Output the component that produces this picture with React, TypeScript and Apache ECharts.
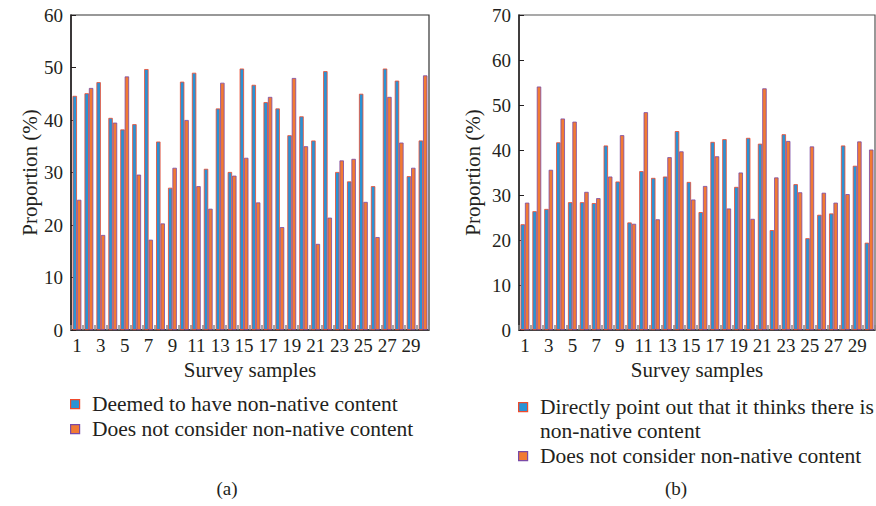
import React, { useEffect, useRef } from "react";
import * as echarts from "echarts";

const categories = ["1","2","3","4","5","6","7","8","9","10","11","12","13","14","15","16","17","18","19","20","21","22","23","24","25","26","27","28","29","30"];

const deemedA = [44.6,45.1,47.2,40.4,38.2,39.2,49.7,35.9,27.1,47.3,49.0,30.7,42.2,30.1,49.8,46.7,43.4,42.2,37.1,40.7,36.1,49.3,30.1,28.3,45.0,27.4,49.8,47.5,29.3,36.1];
const notConsiderA = [24.8,46.1,18.1,39.5,48.3,29.6,17.2,20.3,30.9,40.0,27.4,23.1,47.1,29.4,32.8,24.3,44.4,19.6,48.0,35.0,16.4,21.4,32.3,32.6,24.4,17.7,44.4,35.7,30.9,48.5];

const directB = [23.5,26.4,26.9,41.7,28.4,28.4,28.2,41.0,33.0,23.9,35.3,33.8,34.1,44.2,32.9,26.2,41.8,42.4,31.8,42.7,41.4,22.2,43.5,32.4,20.4,25.6,25.9,41.0,36.5,19.4];
const notConsiderB = [28.3,54.1,35.6,47.0,46.3,30.7,29.3,34.1,43.3,23.6,48.4,24.6,38.4,39.7,29.0,32.0,38.6,27.0,35.0,24.7,53.7,33.9,42.0,30.6,40.8,30.5,28.3,30.2,41.9,40.1];

const yMaxA = 60;
const yMaxB = 70;

const nameDeemed = "Deemed to have non-native content";
const nameDirect = "Directly point out that it thinks there is non-native content";
const nameDirectLines = ["Directly point out that it thinks there is", "non-native content"];
const nameNot = "Does not consider non-native content";

const FONT = "Liberation Serif";
const TXT = "#231f20";
const BLUE = "#2a93d5";
const RED = "#f04a2c";
const ORANGE = "#f27a33";
const PURPLE = "#7a4aa6";

export default function App() {
  const ref = useRef<HTMLDivElement>(null);
  useEffect(() => {
    if (!ref.current) return;
    const chart = echarts.init(ref.current, null, { renderer: "svg" });
    const xAxisBase = (gridIndex: number) => ({
      type: "category" as const,
      gridIndex,
      data: categories,
      name: "Survey samples",
      nameLocation: "middle" as const,
      nameGap: 28,
      nameTextStyle: { fontFamily: FONT, fontSize: 21, color: TXT },
      axisLine: { lineStyle: { color: "#231f20", width: 1.5 } },
      axisTick: { show: true, inside: true, length: 5, interval: 0, lineStyle: { color: "#888", width: 1.5 } },
      axisLabel: { interval: 1, margin: 6, fontFamily: FONT, fontSize: 19, color: TXT },
    });
    const yAxisBase = (gridIndex: number, max: number, nameGap: number) => ({
      type: "value" as const,
      gridIndex,
      min: 0,
      max,
      interval: 10,
      name: "Proportion (%)",
      nameLocation: "middle" as const,
      nameGap,
      nameTextStyle: { fontFamily: FONT, fontSize: 21, color: TXT },
      axisLine: { show: true, lineStyle: { color: "#231f20", width: 1.5 } },
      axisTick: { show: true, inside: true, length: 5, lineStyle: { color: "#231f20" } },
      axisLabel: { margin: 8, fontFamily: FONT, fontSize: 19, color: TXT },
      splitLine: { show: false },
    });
    const barS1 = { color: BLUE, borderColor: RED, borderWidth: 0.8 };
    const barS2 = { color: ORANGE, borderColor: PURPLE, borderWidth: 0.8 };
    const legendItem = (x: number, y: number, fill: string, stroke: string, lines: string[]) => {
      const els: any[] = [
        { type: "rect", left: x, top: y - 5, shape: { width: 9, height: 9 }, style: { fill, stroke, lineWidth: 1.2 } },
      ];
      lines.forEach((t, i) => {
        els.push({
          type: "text",
          x: x + 22,
          y: y + i * 24,
          style: { text: t, fontFamily: FONT, fontSize: 21.5, fill: TXT, verticalAlign: "middle", align: "left" },
        });
      });
      return els;
    };
    chart.setOption({
      animation: false,
      textStyle: { fontFamily: FONT },
      grid: [
        { left: 71, top: 15, width: 358, height: 315, show: true, borderColor: "#333", borderWidth: 1.2, backgroundColor: "transparent" },
        { left: 519, top: 15, width: 356, height: 315, show: true, borderColor: "#555", borderWidth: 1.2, backgroundColor: "transparent" },
      ],
      xAxis: [xAxisBase(0), xAxisBase(1)],
      yAxis: [yAxisBase(0, yMaxA, 20), yAxisBase(1, yMaxB, 36)],
      series: [
        { type: "bar", name: nameDeemed, xAxisIndex: 0, yAxisIndex: 0, data: deemedA, barWidth: 4.4, barGap: "0%", itemStyle: barS1 },
        { type: "bar", name: nameNot, xAxisIndex: 0, yAxisIndex: 0, data: notConsiderA, barWidth: 4.4, barGap: "0%", itemStyle: barS2 },
        { type: "bar", name: nameDirect, xAxisIndex: 1, yAxisIndex: 1, data: directB, barWidth: 4.4, barGap: "0%", itemStyle: barS1 },
        { type: "bar", name: nameNot + " ", xAxisIndex: 1, yAxisIndex: 1, data: notConsiderB, barWidth: 4.4, barGap: "0%", itemStyle: barS2 },
      ],
      graphic: [
        ...legendItem(70, 404, BLUE, RED, [nameDeemed]),
        ...legendItem(70, 429, ORANGE, PURPLE, [nameNot]),
        ...legendItem(518, 407, BLUE, RED, nameDirectLines),
        ...legendItem(518, 456, ORANGE, PURPLE, [nameNot]),
        { type: "text", x: 227, y: 488, style: { text: "(a)", fontFamily: FONT, fontSize: 19, fill: TXT, align: "center", verticalAlign: "middle" } },
        { type: "text", x: 676, y: 488, style: { text: "(b)", fontFamily: FONT, fontSize: 19, fill: TXT, align: "center", verticalAlign: "middle" } },
      ],
    });
    return () => chart.dispose();
  }, []);
  return <div ref={ref} style={{ position: "absolute", left: 0, top: 0, width: 876, height: 506 }} />;
}
